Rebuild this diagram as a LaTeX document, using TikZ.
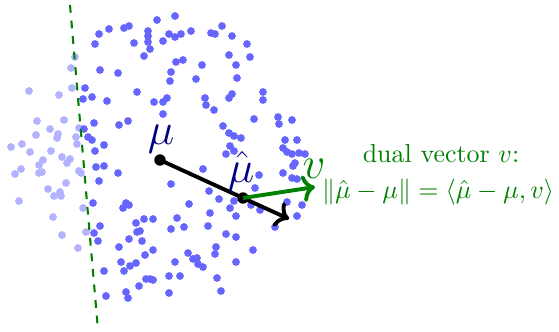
\documentclass[tikz,border=0pt]{standalone}
\usetikzlibrary{arrows.meta}
\definecolor{dotblue}{rgb}{0.40,0.40,1.00}
\definecolor{dotlight}{rgb}{0.70,0.70,1.00}
\definecolor{dkgreen}{rgb}{0.0,0.5,0.0}
\definecolor{navyc}{rgb}{0.0,0.0,0.5}
\begin{document}
\begin{tikzpicture}[x=0.385pt,y=-0.385pt,
  bluedot/.style={fill=dotblue},
  lightdot/.style={fill=dotlight},
  ptdot/.style={circle,fill=black,inner sep=0pt,minimum size=4.4pt},
  sepline/.style={dkgreen,thick,dashed},
  vecarrow/.style={line width=1.5pt,->},
  navylabel/.style={text=navyc,font=\LARGE,anchor=base,inner sep=0pt},
  greenlabel/.style={text=dkgreen,anchor=base,inner sep=0pt}]
\useasboundingbox (0,0) rectangle (559,331);
% faded points
\foreach \x/\y in {29/91,59/95,71/68,72/88,75/57,37/121,64/120,50/129,36/135,58/134,57/138,76/137,79/128,
  11/147,22/144,30/152,51/151,77/144,62/157,70/159,67/163,43/160,39/165,21/169,15/174,39/173,42/172,
  79/171,81/173,66/183,48/189,60/192,54/196,61/196,19/201,83/208,53/217,86/232,62/235,78/248}
  \fill[lightdot] (\x,\y) circle [radius=1.5pt];
% points
\foreach \x/\y in {99/34,109/29,124/28,129/26,157/20,175/16,95/44,148/31,148/36,148/42,150/49,134/43,
  163/41,169/34,175/37,181/34,191/31,144/56,176/62,183/60,100/70,118/73,171/72,170/81,196/79,137/92,
  85/88,83/99,92/97,107/101,154/102,163/102,167/98,163/114,94/123,119/125,128/121,84/129,88/137,
  92/140,104/145,95/151,96/167,104/166,118/173,99/181,171/184,93/203,126/203,129/205,123/208,189/204,
  144/219,153/219,136/223,177/218,184/227,171/229,100/226,137/232,140/231,94/233,98/241,129/239,
  142/241,119/247,153/250,145/255,188/253,193/259,197/258,121/262,130/266,136/263,175/262,104/271,
  124/271,146/279,150/279,153/280,169/276,180/276,139/286,106/296,126/292,128/298,169/293,
  211/33,215/34,222/26,232/36,247/44,229/55,250/57,202/65,236/65,237/78,232/94,229/98,263/92,
  263/100,205/98,206/105,214/110,254/119,278/117,279/124,292/120,223/126,229/133,234/136,241/138,
  285/140,297/140,230/146,234/151,226/154,283/148,287/152,292/154,299/153,305/154,203/169,295/163,
  293/166,259/175,283/173,292/178,297/179,255/188,209/191,219/199,234/201,230/208,236/216,210/213,
  251/205,260/210,287/202,302/205,297/216,275/227,208/226,226/234,236/237,216/247,215/254,253/250,
  198/264,203/267,236/262,217/278,221/291}
  \fill[bluedot] (\x,\y) circle [radius=1.5pt];
% separating hyperplane
\coordinate (ltop) at (70,5);
\coordinate (lbot) at (98,330);
\draw[sepline] (ltop) -- (lbot);
% means
\node[ptdot] (mu) at (160,160) {};
\coordinate (btip) at (289,219);
\draw[vecarrow,black] (mu.center) -- (btip);
\node[ptdot] (muhat) at (243,198) {};
\coordinate (gtip) at (315,187);
\draw[vecarrow,dkgreen] (muhat.center) -- (gtip);
% labels
\node[navylabel] (mulbl) at (161,144) {$\mu$};
\node[navylabel] (muhatlbl) at (241,182) {$\hat\mu$};
\node[greenlabel,font=\LARGE] (vlbl) at (314,178) {$v$};
\node[greenlabel] (duallbl) at (441,162) {dual vector $v$:};
\node[greenlabel] (formlbl) at (438,198) {$\|\hat\mu-\mu\|=\langle\hat\mu-\mu,v\rangle$};
\end{tikzpicture}
\end{document}
